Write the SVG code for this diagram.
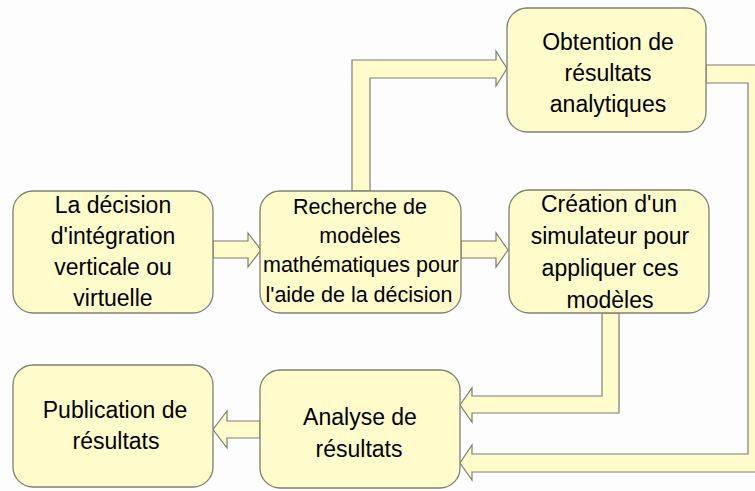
<svg xmlns="http://www.w3.org/2000/svg" width="755" height="491" viewBox="0 0 755 491">
<style>
.box{fill:#FFFCCC;stroke:#7F7F73;stroke-width:1.3}
.arr{fill:#FFFCCC;stroke:#7F7F73;stroke-width:1.2;stroke-linejoin:miter}
text{font-family:"Liberation Sans",Arial,sans-serif;font-size:23px;fill:#000;text-anchor:middle}
.sm{font-size:21.5px}
</style>
<rect width="755" height="491" fill="#FDFDFD"/>
<g id="connectors">
<path class="arr" d="M213,241 H248 V233 L261,250 L248,267 V258 H213 Z"/>
<path class="arr" d="M461,241 H496 V233 L508,250 L496,267 V258 H461 Z"/>
<path class="arr" d="M352,191 V60 H496 V51 L507,68.5 L496,86 V78 H370 V191 Z"/>
<path class="arr" d="M706,65 H766 V472 H472 V480 L460,463 L472,445 V454 H748 V83 H706 Z"/>
<path class="arr" d="M602,313 V396 H472 V388 L460,405 L472,422 V413 H619 V313 Z"/>
<path class="arr" d="M260,421 H227 V411 L213,429.5 L227,448 V438 H260 Z"/>
</g>
<g id="n1">
<rect class="box" x="13" y="191" width="200" height="122" rx="20"/>
<text x="113" y="213">La décision</text>
<text x="113" y="244">d'intégration</text>
<text x="113" y="275">verticale ou</text>
<text x="113" y="306">virtuelle</text>
</g>
<g id="n2">
<rect class="box" x="260" y="191" width="201" height="122" rx="20"/>
<text class="sm" x="360" y="214">Recherche de</text>
<text class="sm" x="360" y="243">modèles</text>
<text class="sm" x="361" y="272">mathématiques pour</text>
<text class="sm" x="359" y="302">l'aide de la décision</text>
</g>
<g id="n3">
<rect class="box" x="507" y="8" width="199" height="124" rx="20"/>
<text x="608" y="50">Obtention de</text>
<text x="608" y="81">résultats</text>
<text x="608" y="112">analytiques</text>
</g>
<g id="n4">
<rect class="box" x="509" y="190" width="200" height="123" rx="20"/>
<text x="609" y="212">Création d'un</text>
<text x="610" y="244">simulateur pour</text>
<text x="610" y="276">appliquer ces</text>
<text x="610" y="308">modèles</text>
</g>
<g id="n5">
<rect class="box" x="260" y="370" width="200" height="118" rx="20"/>
<text x="360" y="425">Analyse de</text>
<text x="359" y="457">résultats</text>
</g>
<g id="n6">
<rect class="box" x="13" y="365" width="200" height="122" rx="20"/>
<text x="115" y="418">Publication de</text>
<text x="116" y="449">résultats</text>
</g>
</svg>
